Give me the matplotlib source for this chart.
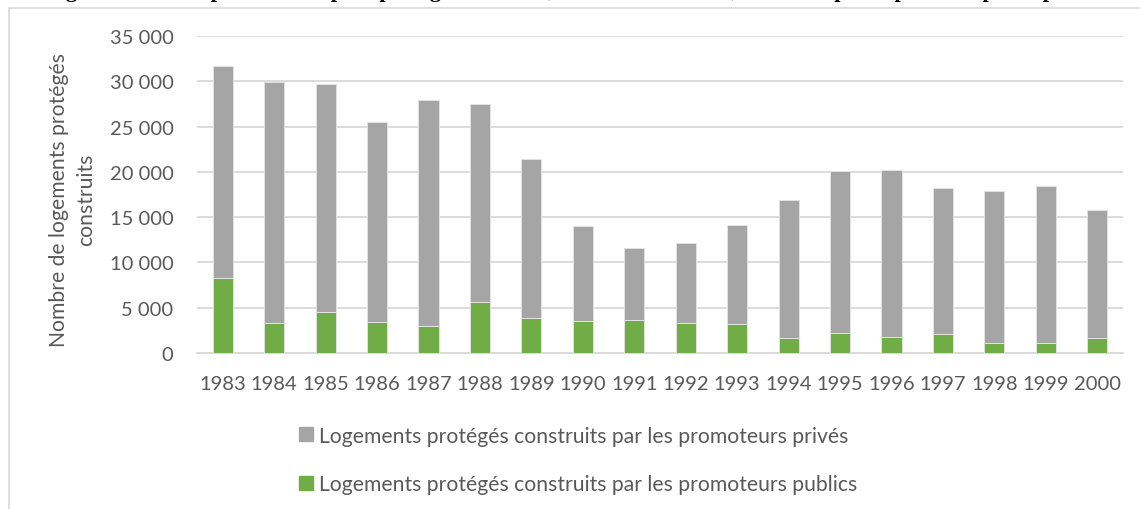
import matplotlib
matplotlib.use("Agg")
import matplotlib.pyplot as plt
from matplotlib.lines import Line2D
from matplotlib.patches import Rectangle
import numpy as np

years = ["1983", "1984", "1985", "1986", "1987", "1988", "1989", "1990", "1991",
         "1992", "1993", "1994", "1995", "1996", "1997", "1998", "1999", "2000"]
totals = [31650, 29920, 29660, 25540, 27930, 27530, 21420, 14060, 11590,
          12110, 14130, 16890, 20130, 20240, 18220, 17880, 18470, 15820]
publics = [8280, 3310, 4530, 3420, 2980, 5590, 3860, 3500, 3640,
           3310, 3200, 1660, 2210, 1770, 2130, 1140, 1140, 1660]
privates = [t - p for t, p in zip(totals, publics)]

yticks = [0, 5000, 10000, 15000, 20000, 25000, 30000, 35000]
label_priv = "Logements protégés construits par les promoteurs privés"
label_pub = "Logements protégés construits par les promoteurs publics"
ylabel = "Nombre de logements protégés\nconstruits"
title = "Figure n°4 : L’importance du parc protégé au Maroc, entre 1983 et 2000, construit par le public et par le privé"

GRAY = "#A5A5A5"
GREEN = "#70AD47"
TXT = "#595959"
GRID = "#D9D9D9"
FONT = "Lato"
FS = 14.5

W, H = 1140, 510
fig = plt.figure(figsize=(W / 100, H / 100), dpi=100)
fig.patch.set_facecolor("white")

# chart area border
fig.patches.append(Rectangle((9 / W, -0.1), 1.2, 1 - 9 / H + 0.1, transform=fig.transFigure,
                             facecolor="none", edgecolor=GRID, linewidth=1.2, zorder=0))

# cut-off title (only descenders visible, as in the reference)
fig.text(46 / W, 1 + 3 / H, title, family="Liberation Serif", fontweight="bold",
         fontsize=16, va="baseline", ha="left", color="black")

ax = fig.add_axes([197 / W, 1 - 354 / H, 926 / W, (354 - 37) / H])
x = np.arange(len(years))
bw = 0.39
ax.bar(x, publics, bw, color=GREEN, edgecolor="#E2E2E2", linewidth=0.7, zorder=3)
ax.bar(x, privates, bw, bottom=publics, color=GRAY, edgecolor="#E2E2E2", linewidth=0.7, zorder=3)

ax.set_xlim(-0.5, len(years) - 0.5)
ax.set_ylim(0, 35000)
ax.set_yticks(yticks)
ax.set_yticklabels([f"{v:,}".replace(",", " ") for v in yticks], family=FONT, fontsize=FS, color=TXT)
ax.set_xticks(x)
ax.set_xticklabels(years, family=FONT, fontsize=FS, color=TXT)
ax.tick_params(axis="both", length=0)
ax.tick_params(axis="y", pad=17)
ax.tick_params(axis="x", pad=16)
ax.grid(axis="y", color=GRID, linewidth=1.3, zorder=0)
ax.set_axisbelow(True)
for s in ["top", "right", "left"]:
    ax.spines[s].set_visible(False)
ax.spines["bottom"].set_color(GRID)
ax.spines["bottom"].set_linewidth(1.3)
ax.set_facecolor("none")

fig.text(73 / W, 1 - 200 / H, ylabel, rotation=90, ha="center", va="center",
         multialignment="center", family=FONT, fontsize=15.2, color=TXT, linespacing=1.45)

handles = [Line2D([], [], marker="s", linestyle="none", markersize=10, color=GRAY),
           Line2D([], [], marker="s", linestyle="none", markersize=10, color=GREEN)]
leg = fig.legend(handles, [label_priv, label_pub], loc="center left",
                 bbox_to_anchor=(288 / W, 1 - 461 / H), frameon=False,
                 prop={"family": FONT, "size": 15.2}, labelcolor=TXT,
                 handlelength=0.7, handletextpad=0.25, labelspacing=1.35, borderpad=0)

fig.savefig("out.png", dpi=100, facecolor="white")
